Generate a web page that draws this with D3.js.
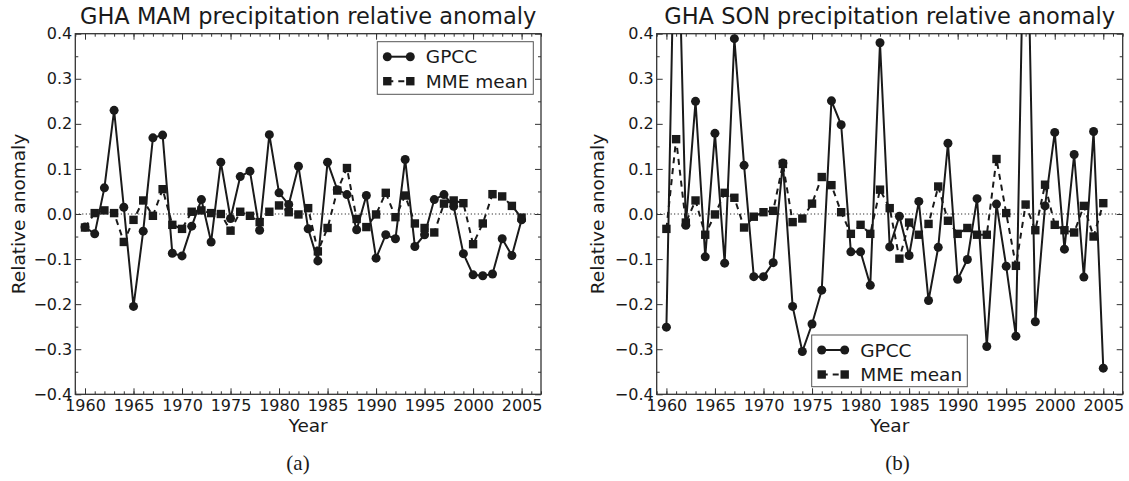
<!DOCTYPE html>
<html>
<head>
<meta charset="utf-8">
<script src="https://cdn.jsdelivr.net/npm/d3@7/dist/d3.min.js"></script>
<style>
  html, body { margin: 0; padding: 0; background: #fff; }
  svg { display: block; }
  text { font-family: "DejaVu Sans", sans-serif; fill: #1a1a1a; }
</style>
</head>
<body>
<svg id="chart" width="1129" height="481"></svg>
<script>
const years = d3.range(1960, 2006);

const mamGPCC = [-0.029, -0.044, 0.058, 0.230, 0.015, -0.205, -0.038, 0.169, 0.175, -0.087,
  -0.093, -0.027, 0.032, -0.062, 0.115, -0.010, 0.083, 0.095, -0.036, 0.176,
  0.047, 0.021, 0.106, -0.033, -0.104, 0.115, 0.054, 0.043, -0.035, 0.041,
  -0.098, -0.046, -0.055, 0.121, -0.072, -0.046, 0.032, 0.043, 0.017, -0.088,
  -0.135, -0.137, -0.133, -0.055, -0.092, -0.013];
const mamMME = [-0.030, 0.002, 0.008, 0.002, -0.062, -0.013, 0.030, -0.004, 0.055, -0.024,
  -0.033, 0.005, 0.008, 0.002, 0.000, -0.037, 0.005, -0.004, -0.018, 0.005,
  0.019, 0.004, -0.001, 0.013, -0.083, -0.031, 0.052, 0.102, -0.011, -0.029,
  -0.001, 0.047, -0.007, 0.041, -0.021, -0.031, -0.041, 0.023, 0.030, 0.024,
  -0.067, -0.021, 0.044, 0.039, 0.018, -0.008];

const sonGPCC = [-0.251, 0.840, -0.025, 0.250, -0.095, 0.179, -0.109, 0.389, 0.108, -0.139,
  -0.139, -0.108, 0.113, -0.205, -0.305, -0.244, -0.169, 0.251, 0.198, -0.084,
  -0.084, -0.158, 0.380, -0.073, -0.005, -0.092, 0.028, -0.192, -0.074, 0.157,
  -0.145, -0.101, 0.034, -0.294, 0.022, -0.116, -0.271, 0.870, -0.239, 0.018,
  0.181, -0.078, 0.132, -0.140, 0.183, -0.342];
const sonMME = [-0.033, 0.166, -0.019, 0.030, -0.046, -0.001, 0.047, 0.036, -0.030, -0.006,
  0.004, 0.007, 0.111, -0.018, -0.010, 0.023, 0.082, 0.064, 0.004, -0.044,
  -0.024, -0.044, 0.054, 0.013, -0.099, -0.019, -0.046, -0.022, 0.061, -0.015,
  -0.044, -0.031, -0.046, -0.046, 0.122, 0.002, -0.115, 0.021, -0.036, 0.065,
  -0.024, -0.036, -0.041, 0.018, -0.050, 0.024];

const yMajorTicks = [-0.4, -0.3, -0.2, -0.1, 0.0, 0.1, 0.2, 0.3, 0.4];
const yMinorTicks = [-0.35, -0.25, -0.15, -0.05, 0.05, 0.15, 0.25, 0.35];
const xMajorTicks = [1960, 1965, 1970, 1975, 1980, 1985, 1990, 1995, 2000, 2005];
const xMinorTicks = d3.range(1959, 2008);

const seriesNames = ["GPCC", "MME mean"];

const panels = [
  { title: "GHA MAM precipitation relative anomaly", gpcc: mamGPCC, mme: mamMME,
    left: 75.3, right: 541, ylabX: 24.5, tag: "(a)", tagX: 298,
    legend: { x: 377.3, y: 41.7, w: 156, h: 52.6 } },
  { title: "GHA SON precipitation relative anomaly", gpcc: sonGPCC, mme: sonMME,
    left: 656.7, right: 1122.7, ylabX: 604, tag: "(b)", tagX: 897.5,
    legend: { x: 811.7, y: 335, w: 155.6, h: 51.7 } }
];

const plotTop = 33.7, plotBottom = 394.3;
const ink = "#1a1a1a";
const svg = d3.select("#chart");

panels.forEach((p, i) => {
  const x = d3.scaleLinear().domain([1959, 2007]).range([p.left, p.right]);
  const y = d3.scaleLinear().domain([-0.4, 0.4]).range([plotBottom, plotTop]);
  const g = svg.append("g");
  const fmt = d3.format(".1f");

  const clipId = "clip" + i;
  svg.append("clipPath").attr("id", clipId).append("rect")
    .attr("x", p.left).attr("y", plotTop).attr("width", p.right - p.left).attr("height", plotBottom - plotTop);

  g.append("line").attr("x1", p.left).attr("x2", p.right)
    .attr("y1", y(0)).attr("y2", y(0))
    .attr("stroke", "#000").attr("stroke-width", 1).attr("stroke-dasharray", "1,2.5");

  const styleAxis = sel => {
    sel.select(".domain").remove();
    sel.selectAll(".tick line").attr("stroke", "#333").attr("stroke-width", 1);
    sel.selectAll("text").attr("font-size", 16).attr("fill", ink)
      .attr("font-family", "DejaVu Sans, sans-serif");
  };
  g.append("g").attr("transform", `translate(0,${plotBottom})`)
    .call(d3.axisBottom(x).tickValues(xMajorTicks).tickFormat(d3.format("d")).tickSize(-6).tickPadding(5))
    .call(styleAxis);
  g.append("g").attr("transform", `translate(0,${plotBottom})`)
    .call(d3.axisBottom(x).tickValues(xMinorTicks).tickFormat("").tickSize(-3))
    .call(styleAxis);
  g.append("g").attr("transform", `translate(0,${plotTop})`)
    .call(d3.axisTop(x).tickValues(xMajorTicks).tickFormat("").tickSize(-6))
    .call(styleAxis);
  g.append("g").attr("transform", `translate(0,${plotTop})`)
    .call(d3.axisTop(x).tickValues(xMinorTicks).tickFormat("").tickSize(-3))
    .call(styleAxis);
  g.append("g").attr("transform", `translate(${p.left},0)`)
    .call(d3.axisLeft(y).tickValues(yMajorTicks).tickFormat(fmt).tickSize(-6).tickPadding(3))
    .call(styleAxis);
  g.append("g").attr("transform", `translate(${p.left},0)`)
    .call(d3.axisLeft(y).tickValues(yMinorTicks).tickFormat("").tickSize(-3))
    .call(styleAxis);
  g.append("g").attr("transform", `translate(${p.right},0)`)
    .call(d3.axisRight(y).tickValues(yMajorTicks).tickFormat("").tickSize(-6))
    .call(styleAxis);
  g.append("g").attr("transform", `translate(${p.right},0)`)
    .call(d3.axisRight(y).tickValues(yMinorTicks).tickFormat("").tickSize(-3))
    .call(styleAxis);

  g.append("rect").attr("x", p.left).attr("y", plotTop)
    .attr("width", p.right - p.left).attr("height", plotBottom - plotTop)
    .attr("fill", "none").attr("stroke", "#333").attr("stroke-width", 1.3);

  const dg = g.append("g").attr("clip-path", `url(#${clipId})`);
  const line = d3.line().x((d, k) => x(years[k])).y(d => y(d));
  dg.append("path").datum(p.mme).attr("d", line)
    .attr("fill", "none").attr("stroke", ink).attr("stroke-width", 2)
    .attr("stroke-dasharray", "6,5");
  dg.selectAll("rect.mme").data(p.mme).enter().append("rect")
    .attr("x", (d, k) => x(years[k]) - 4.2).attr("y", d => y(d) - 4.2)
    .attr("width", 8.4).attr("height", 8.4).attr("fill", ink);
  dg.append("path").datum(p.gpcc).attr("d", line)
    .attr("fill", "none").attr("stroke", ink).attr("stroke-width", 2);
  dg.selectAll("circle.gpcc").data(p.gpcc).enter().append("circle")
    .attr("cx", (d, k) => x(years[k])).attr("cy", d => y(d))
    .attr("r", 4.5).attr("fill", ink);

  g.append("text").attr("x", (p.left + p.right) / 2).attr("y", 24)
    .attr("text-anchor", "middle").attr("font-size", 22.5).text(p.title);
  g.append("text").attr("x", (p.left + p.right) / 2).attr("y", 431.5)
    .attr("text-anchor", "middle").attr("font-size", 18.5).text("Year");
  g.append("text").attr("transform", `translate(${p.ylabX},${(plotTop + plotBottom) / 2}) rotate(-90)`)
    .attr("text-anchor", "middle").attr("font-size", 18.5).text("Relative anomaly");
  g.append("text").attr("x", p.tagX).attr("y", 470)
    .attr("text-anchor", "middle").attr("font-size", 21)
    .style("font-family", "'Liberation Serif', 'DejaVu Serif', serif").text(p.tag);

  const L = p.legend;
  const lg = g.append("g");
  lg.append("rect").attr("x", L.x).attr("y", L.y).attr("width", L.w).attr("height", L.h)
    .attr("fill", "#fff").attr("stroke", "#555").attr("stroke-width", 1);
  seriesNames.forEach((name, k) => {
    const cy = L.y + 15 + k * 24.5;
    const x1 = L.x + 10, x2 = L.x + 33;
    lg.append("line").attr("x1", x1).attr("x2", x2).attr("y1", cy).attr("y2", cy)
      .attr("stroke", ink).attr("stroke-width", 2)
      .attr("stroke-dasharray", k === 1 ? "6,5" : null);
    if (k === 0) {
      [x1, x2].forEach(xx => lg.append("circle").attr("cx", xx).attr("cy", cy).attr("r", 4.5).attr("fill", ink));
    } else {
      [x1, x2].forEach(xx => lg.append("rect").attr("x", xx - 4.2).attr("y", cy - 4.2)
        .attr("width", 8.4).attr("height", 8.4).attr("fill", ink));
    }
    lg.append("text").attr("x", L.x + 48.5).attr("y", cy).attr("dy", "0.36em")
      .attr("font-size", 18.5).text(name);
  });
});
</script>
</body>
</html>
